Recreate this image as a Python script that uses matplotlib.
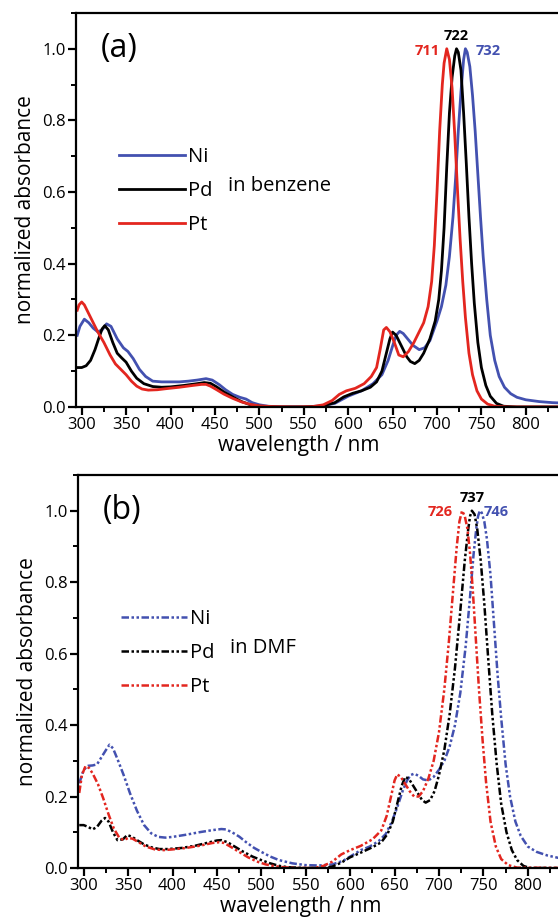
import matplotlib
matplotlib.use("Agg")
import matplotlib.pyplot as plt
from matplotlib.ticker import MultipleLocator, FormatStrFormatter

plt.rcParams["font.family"] = ["Open Sans", "DejaVu Sans"]

BLUE = "#4351b0"
BLACK = "#000000"
RED = "#e3261f"

# ---- panel (a): in benzene ----
ni_a_wl = [295, 298, 303, 308, 313, 318, 323, 328, 333, 340, 347, 352, 358, 365, 372, 380, 390, 400, 410,
           420, 430, 440, 447, 455, 462, 470, 478, 485, 492, 500, 510, 525, 550, 570, 585, 600, 615, 628,
           638, 645, 650, 654, 658, 662, 667, 673, 680, 686, 692, 700, 705, 710, 714, 718, 721, 724, 727,
           730, 732, 734, 737, 740, 743, 746, 749, 752, 756, 760, 765, 770, 776, 783, 790, 800, 815, 830, 850]
ni_a_abs = [0.20, 0.225, 0.245, 0.235, 0.22, 0.21, 0.215, 0.232, 0.225, 0.19, 0.165, 0.155, 0.135, 0.105,
            0.085, 0.072, 0.07, 0.07, 0.07, 0.072, 0.075, 0.079, 0.075, 0.062, 0.048, 0.035, 0.027, 0.022,
            0.012, 0.006, 0.002, 0.0, 0.0, 0.003, 0.01, 0.03, 0.045, 0.065, 0.09, 0.13, 0.17, 0.2, 0.211,
            0.205, 0.19, 0.172, 0.16, 0.165, 0.185, 0.24, 0.28, 0.34, 0.42, 0.53, 0.64, 0.77, 0.88, 0.97,
            1.0, 0.99, 0.95, 0.87, 0.77, 0.65, 0.53, 0.42, 0.3, 0.2, 0.13, 0.085, 0.055, 0.037, 0.027, 0.02,
            0.015, 0.012, 0.01]

pd_a_wl = [295, 300, 305, 310, 315, 319, 323, 326, 330, 335, 340, 345, 350, 356, 362, 370, 380, 390, 400,
           415, 430, 438, 445, 452, 460, 470, 480, 490, 500, 520, 550, 570, 585, 595, 605, 615, 625, 632,
           638, 643, 647, 650, 654, 660, 666, 670, 675, 680, 685, 692, 698, 702, 705, 708, 711, 714, 717,
           720, 722, 724, 727, 730, 733, 736, 739, 742, 746, 750, 755, 760, 767, 775, 790, 850]
pd_a_abs = [0.11, 0.11, 0.115, 0.13, 0.16, 0.19, 0.218, 0.227, 0.215, 0.18, 0.15, 0.137, 0.125, 0.1, 0.08,
            0.065, 0.057, 0.055, 0.056, 0.06, 0.065, 0.068, 0.066, 0.056, 0.042, 0.028, 0.015, 0.006, 0.002,
            0.0, 0.0, 0.002, 0.012, 0.028, 0.038, 0.045, 0.055, 0.07, 0.1, 0.15, 0.19, 0.209, 0.2, 0.17,
            0.14, 0.127, 0.121, 0.13, 0.15, 0.19, 0.24, 0.3, 0.38, 0.5, 0.67, 0.82, 0.92, 0.98, 1.0, 0.99,
            0.94, 0.82, 0.68, 0.53, 0.4, 0.29, 0.18, 0.11, 0.06, 0.03, 0.01, 0.002, 0.0, 0.0]

pt_a_wl = [295, 297, 300, 303, 307, 312, 318, 325, 332, 338, 344, 350, 356, 362, 368, 375, 385, 395, 410,
           425, 435, 440, 445, 452, 460, 470, 480, 490, 500, 515, 540, 560, 572, 582, 590, 598, 608, 618,
           626, 632, 636, 640, 643, 647, 652, 657, 662, 668, 674, 680, 685, 690, 694, 697, 700, 703, 706,
           708, 711, 714, 717, 720, 723, 726, 729, 732, 736, 740, 745, 750, 757, 765, 780, 850]
pt_a_abs = [0.27, 0.285, 0.293, 0.285, 0.265, 0.24, 0.21, 0.18, 0.145, 0.12, 0.105, 0.09, 0.072, 0.058,
            0.05, 0.047, 0.048, 0.051, 0.055, 0.06, 0.063, 0.063, 0.058, 0.048, 0.036, 0.024, 0.014, 0.007,
            0.003, 0.001, 0.0, 0.001, 0.006, 0.018, 0.035, 0.045, 0.052, 0.065, 0.085, 0.11, 0.16, 0.215,
            0.222, 0.21, 0.18, 0.145, 0.14, 0.155, 0.18, 0.21, 0.235, 0.28, 0.35, 0.45, 0.6, 0.77, 0.9,
            0.96, 1.0, 0.97, 0.89, 0.76, 0.61, 0.47, 0.35, 0.25, 0.15, 0.09, 0.045, 0.022, 0.008, 0.002,
            0.0, 0.0]

# ---- panel (b): in DMF ----
ni_b_wl = [295, 300, 305, 310, 315, 320, 325, 329, 333, 338, 345, 352, 360, 368, 376, 384, 392, 400, 415,
           430, 445, 455, 460, 467, 475, 483, 492, 500, 510, 520, 535, 550, 565, 580, 592, 602, 612, 622,
           632, 640, 647, 653, 659, 664, 668, 672, 677, 682, 688, 694, 700, 706, 712, 718, 724, 730, 735,
           739, 742, 744, 746, 748, 751, 754, 758, 762, 766, 770, 775, 780, 786, 792, 800, 810, 822, 835, 850]
ni_b_abs = [0.237, 0.275, 0.286, 0.287, 0.29, 0.31, 0.33, 0.345, 0.335, 0.305, 0.26, 0.21, 0.16, 0.12,
            0.097, 0.087, 0.085, 0.087, 0.093, 0.1, 0.106, 0.109, 0.108, 0.1, 0.088, 0.072, 0.056, 0.045,
            0.032, 0.022, 0.013, 0.008, 0.007, 0.01, 0.02, 0.035, 0.05, 0.06, 0.075, 0.095, 0.13, 0.17,
            0.215, 0.245, 0.26, 0.264, 0.258, 0.248, 0.245, 0.255, 0.275, 0.3, 0.34, 0.4, 0.49, 0.62, 0.76,
            0.88, 0.95, 0.985, 1.0, 0.995, 0.97, 0.92, 0.82, 0.68, 0.54, 0.42, 0.29, 0.2, 0.13, 0.09, 0.06,
            0.045, 0.035, 0.028, 0.025]

pd_b_wl = [295, 300, 305, 310, 315, 320, 324, 328, 333, 338, 344, 349, 354, 360, 368, 376, 385, 395, 410,
           425, 440, 450, 455, 462, 470, 480, 490, 500, 510, 520, 530, 550, 570, 580, 590, 600, 612, 625,
           635, 642, 648, 653, 658, 662, 666, 671, 676, 681, 685, 690, 695, 700, 706, 712, 718, 724, 729,
           733, 735, 737, 740, 743, 747, 751, 755, 760, 765, 770, 776, 782, 788, 795, 802, 850]
pd_b_abs = [0.12, 0.12, 0.115, 0.108, 0.115, 0.132, 0.14, 0.13, 0.1, 0.078, 0.08, 0.092, 0.088, 0.078,
            0.066, 0.058, 0.053, 0.053, 0.056, 0.062, 0.071, 0.077, 0.078, 0.072, 0.06, 0.045, 0.032, 0.022,
            0.013, 0.006, 0.002, 0.0, 0.0, 0.004, 0.015, 0.03, 0.043, 0.058, 0.072, 0.095, 0.13, 0.18, 0.23,
            0.255, 0.25, 0.23, 0.21, 0.19, 0.183, 0.19, 0.215, 0.26, 0.33, 0.43, 0.56, 0.72, 0.86, 0.95,
            0.985, 1.0, 0.99, 0.95, 0.86, 0.74, 0.6, 0.43, 0.29, 0.18, 0.1, 0.05, 0.022, 0.006, 0.0, 0.0]

pt_b_wl = [295, 298, 302, 306, 310, 316, 322, 328, 334, 340, 345, 350, 355, 362, 370, 380, 390, 400, 415,
           430, 445, 452, 458, 465, 475, 485, 495, 505, 515, 525, 540, 560, 570, 580, 590, 600, 612, 625,
           635, 641, 646, 650, 653, 657, 662, 667, 672, 677, 682, 688, 694, 700, 706, 711, 716, 720, 723,
           726, 729, 732, 735, 738, 741, 745, 749, 753, 758, 764, 770, 778, 788, 850]
pt_b_abs = [0.21, 0.26, 0.285, 0.28, 0.265, 0.235, 0.195, 0.15, 0.11, 0.085, 0.078, 0.084, 0.082, 0.072,
            0.06, 0.052, 0.05, 0.052, 0.056, 0.062, 0.07, 0.072, 0.07, 0.06, 0.045, 0.03, 0.018, 0.01, 0.005,
            0.002, 0.0, 0.0, 0.006, 0.018, 0.038, 0.05, 0.062, 0.08, 0.105, 0.145, 0.2, 0.245, 0.262, 0.255,
            0.235, 0.215, 0.2, 0.2, 0.215, 0.25, 0.3, 0.38, 0.5, 0.63, 0.78, 0.9, 0.97, 1.0, 0.985, 0.95,
            0.88, 0.78, 0.66, 0.5, 0.36, 0.24, 0.13, 0.06, 0.025, 0.008, 0.001, 0.0]

metals = ["Ni", "Pd", "Pt"]
colors = [BLUE, BLACK, RED]
peaks_a = [732, 722, 711]
peaks_b = [746, 737, 726]


def draw_panel(ax, data, style, lw, tag, solvent, peaks, left_off, right_off):
    for (wl, ab), name, c in zip(data, metals, colors):
        ax.plot(wl, ab, color=c, lw=lw, linestyle=style, label=name)
    ax.set_xlim(293.6, 850)
    ax.set_ylim(0, 1.1)
    ax.set_xticks(range(300, 801, 50))
    ax.xaxis.set_minor_locator(MultipleLocator(25))
    ax.yaxis.set_major_locator(MultipleLocator(0.2))
    ax.yaxis.set_minor_locator(MultipleLocator(0.1))
    ax.yaxis.set_major_formatter(FormatStrFormatter("%.1f"))
    ax.tick_params(which="major", direction="out", length=6, width=1.6, labelsize=12, pad=1.5)
    ax.tick_params(which="minor", direction="out", length=3.5, width=1.4)
    for s in ax.spines.values():
        s.set_linewidth(1.6)
    ax.set_xlabel("wavelength / nm", fontsize=15)
    ax.set_ylabel("normalized absorbance", fontsize=15)
    ax.xaxis.set_label_coords(0.45, -0.07)
    ax.yaxis.set_label_coords(-0.08, 0.5)
    ax.text(0.05, 0.91, tag, transform=ax.transAxes, fontsize=23, va="center", ha="left")
    ax.legend(loc="upper left", bbox_to_anchor=(0.07, 0.68), frameon=False, fontsize=14.5,
              handlelength=3.3, handletextpad=0.12, labelspacing=0.7, borderaxespad=0)
    ax.text(0.308, 0.561, solvent, transform=ax.transAxes, fontsize=14.5, va="center", ha="left")
    # peak maxima labels
    ax.text(peaks[2] + left_off, 0.995, str(peaks[2]), color=RED, fontsize=10.5, fontweight="bold",
            ha="right", va="center")
    ax.text(peaks[1], 1.035, str(peaks[1]), color=BLACK, fontsize=10.5, fontweight="bold",
            ha="center", va="center")
    ax.text(peaks[0] + right_off, 0.995, str(peaks[0]), color=BLUE, fontsize=10.5, fontweight="bold",
            ha="left", va="center")


fig = plt.figure(figsize=(5.58, 9.23), dpi=100)
ax_a = fig.add_axes([0.1362, 0.5591, 0.8857, 0.4269])
ax_b = fig.add_axes([0.1398, 0.0596, 0.8857, 0.4258])

draw_panel(ax_a, [(ni_a_wl, ni_a_abs), (pd_a_wl, pd_a_abs), (pt_a_wl, pt_a_abs)],
           "-", 2.0, "(a)", "in benzene", peaks_a, -8, 12)
draw_panel(ax_b, [(ni_b_wl, ni_b_abs), (pd_b_wl, pd_b_abs), (pt_b_wl, pt_b_abs)],
           (0, (3, 1, 1, 1, 1, 1)), 1.8, "(b)", "in DMF", peaks_b, -10, 4)

fig.savefig("out.png", dpi=100)
